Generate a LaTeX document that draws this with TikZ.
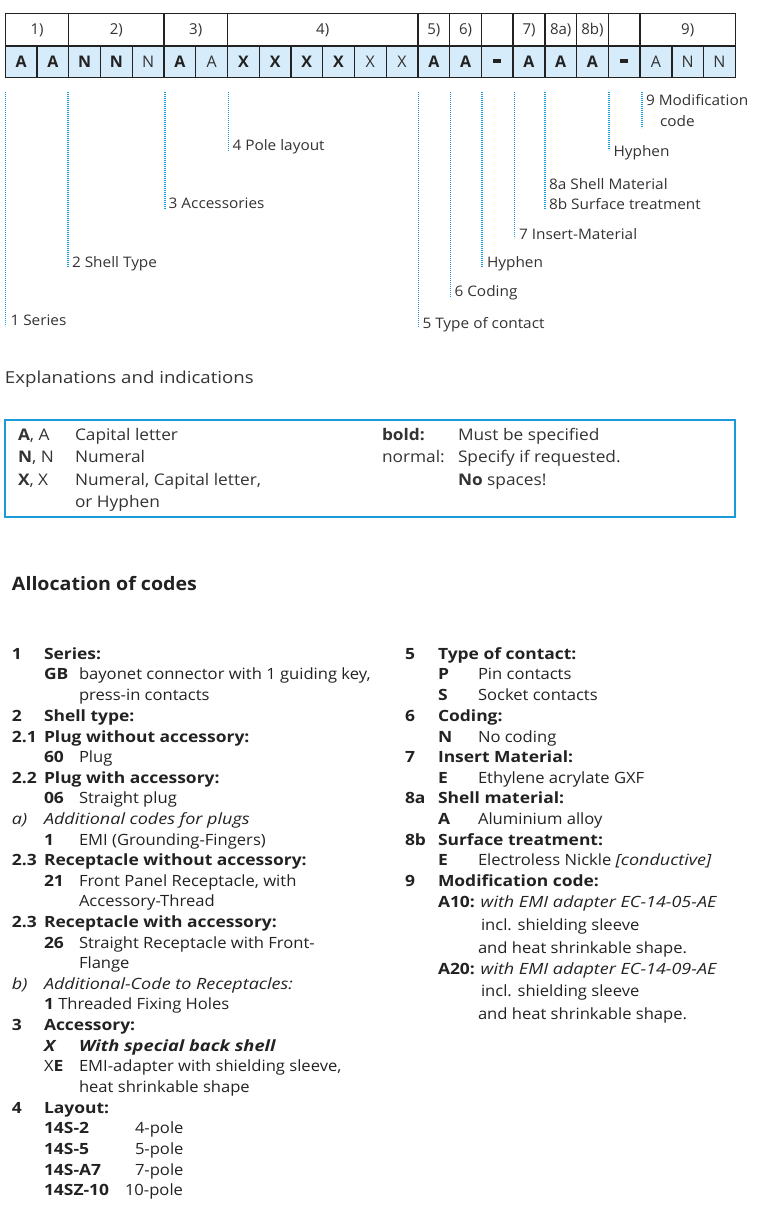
\documentclass[tikz,border=0pt]{standalone}
\usepackage{fontspec}
\setmainfont{Open Sans}
\newfontfamily\listfont[FakeStretch=1.07,BoldFeatures={FakeStretch=1.125},ItalicFeatures={FakeStretch=1.16},BoldItalicFeatures={FakeStretch=1.18}]{Open Sans}
\newfontfamily\labfont[FakeStretch=1.06]{Open Sans}
\newfontfamily\boxfont[FakeStretch=1.08]{Open Sans}
\newfontfamily\headfont[FakeStretch=1.13]{Open Sans}
\definecolor{cellblue}{HTML}{D6ECFA}
\definecolor{dotblue}{HTML}{1A9AD8}
\definecolor{txt}{HTML}{222222}
\definecolor{lbl}{HTML}{333333}
\begin{document}
\begin{tikzpicture}[x=1pt,y=-1pt,
  every node/.style={inner sep=0pt,outer sep=0pt,text=txt},
  lt/.style={anchor=mid west,yshift=-3pt,font=\listfont\fontsize{15.5}{17}\selectfont},
  lab/.style={anchor=mid west,yshift=-3pt,font=\labfont\fontsize{14.5}{20}\selectfont,text=lbl},
  box/.style={anchor=mid west,yshift=-3pt,font=\boxfont\fontsize{16}{18}\selectfont,text=lbl},
  cellb/.style={font=\bfseries\fontsize{16}{18}\selectfont},
  celln/.style={font=\fontsize{16}{18}\selectfont,text=lbl},
  hdr/.style={font=\fontsize{15}{18}\selectfont,text=lbl},
  leader/.style={draw=dotblue,line width=1.6pt,dash pattern=on 1.2pt off 0.8pt},
  grid/.style={draw=txt,line width=1.3pt}]
\useasboundingbox (0,0) rectangle (756,1209);
\def\w{31.74}
\def\xo{5.3}
% code row fill
\fill[cellblue] (\xo,46) rectangle ({\xo+23*\w},77.3);
% grid
\draw[grid] (\xo,13.3) rectangle ({\xo+23*\w},77.3);
\draw[grid] (\xo,46) -- ({\xo+23*\w},46);
\foreach \i in {1,...,22} {\draw[grid] ({\xo+\i*\w},46) -- ({\xo+\i*\w},77.3);}
\foreach \i in {2,5,7,13,14,15,16,17,18,19,20} {\draw[grid] ({\xo+\i*\w},13.3) -- ({\xo+\i*\w},46);}
% headers
\node[hdr] (h1) at ({\xo+1*\w},30) {1)};
\node[hdr] (h2) at ({\xo+3.5*\w},30) {2)};
\node[hdr] (h3) at ({\xo+6*\w},30) {3)};
\node[hdr] (h4) at ({\xo+10*\w},30) {4)};
\node[hdr] (h5) at ({\xo+13.5*\w},30) {5)};
\node[hdr] (h6) at ({\xo+14.5*\w},30) {6)};
\node[hdr] (h7) at ({\xo+16.5*\w},30) {7)};
\node[hdr] (h8a) at ({\xo+17.5*\w},30) {8a)};
\node[hdr] (h8b) at ({\xo+18.5*\w},30) {8b)};
\node[hdr] (h9) at ({\xo+21.5*\w},30) {9)};
% code letters
\foreach \i/\c/\s in {1/A/cellb,2/A/cellb,3/N/cellb,4/N/cellb,5/N/celln,6/A/cellb,7/A/celln,
  8/X/cellb,9/X/cellb,10/X/cellb,11/X/cellb,12/X/celln,13/X/celln,14/A/cellb,15/A/cellb,
  16/{\rule[0.25ex]{0.5em}{0.2em}}/cellb,17/A/cellb,18/A/cellb,19/A/cellb,
  20/{\rule[0.25ex]{0.5em}{0.2em}}/cellb,21/A/celln,22/N/celln,23/N/celln}
  {\node[\s] (c\i) at ({\xo+(\i-0.5)*\w},62) {\c};}
% leader tops and bottoms
\coordinate (t1) at (5.5,92);
\coordinate (t2) at (68,92);
\coordinate (t3) at (164.7,92);
\coordinate (t4) at (228.5,92);
\coordinate (t5) at (418.5,92);
\coordinate (t6) at (450.5,92);
\coordinate (t7) at (482,92);
\coordinate (t8) at (514.5,92);
\coordinate (t9) at (545,92);
\coordinate (t10) at (609,92);
\coordinate (t11) at (641.7,92);
\coordinate (b1) at (5.5,326);
\coordinate (b2) at (68,267);
\coordinate (b3) at (164.7,209);
\coordinate (b4) at (228.5,151);
\coordinate (b5) at (418.5,327);
\coordinate (b6) at (450.5,297);
\coordinate (b7) at (482,267);
\coordinate (b8) at (514.5,238);
\coordinate (b9) at (545,209);
\coordinate (b10) at (609,150);
\coordinate (b11) at (641.7,128);
\foreach \i in {1,...,11} {\draw[leader] (t\i) -- (b\i);}
\node[lab] (l1) at (10.5,320) {1 Series};
\node[lab] (l2) at (72,262) {2 Shell Type};
\node[lab] (l3) at (168.7,203) {3 Accessories};
\node[lab] (l4) at (232.5,145) {4 Pole layout};
\node[lab] (l5) at (422.5,323) {5 Type of contact};
\node[lab] (l6) at (454.5,291) {6 Coding};
\node[lab] (l7) at (487,262) {Hyphen};
\node[lab] (l8) at (519,234) {7 Insert-Material};
\node[lab] (l9) at (549,183.5) {8a Shell Material};
\node[lab] (l9b) at (549,204) {8b Surface treatment};
\node[lab] (l10) at (613.5,151) {Hyphen};
\node[lab] (l11) at (646,100) {9 Modification};
\node[lab] (l11b) at (660,120.5) {code};
% explanations
\node[box,font=\headfont\fontsize{16.5}{18}\selectfont] (exh) at (5,378) {Explanations and indications};
\draw[draw=dotblue,line width=1.1pt] (5,420) rectangle (735,517);
\node[box] (e1a) at (18,435) {\textbf{A}, A};
\node[box] (e1b) at (75,435) {Capital letter};
\node[box] (e1c) at (382,435) {\textbf{bold:}};
\node[box] (e1d) at (458,435) {Must be specified};
\node[box] (e2a) at (18,457) {\textbf{N}, N};
\node[box] (e2b) at (75,457) {Numeral};
\node[box] (e2c) at (382,457) {normal:};
\node[box] (e2d) at (458,457) {Specify if requested.};
\node[box] (e3a) at (18,480) {\textbf{X}, X};
\node[box] (e3b) at (75,480) {Numeral, Capital letter,};
\node[box] (e3d) at (458,480) {\textbf{No} spaces!};
\node[box] (e4b) at (75,502) {or Hyphen};
% allocation
\node[lt,font=\labfont\bfseries\fontsize{18.5}{20}\selectfont] (alloc) at (12,585) {Allocation of codes};
% left column
\node[lt] (a1n) at (12,654) {\textbf{1}};
\node[lt] (a1h) at (44,654) {\textbf{Series:}};
\node[lt] (a1c) at (44,674) {\textbf{GB}};
\node[lt] (a1d) at (79,674) {bayonet connector with 1 guiding key,};
\node[lt] (a1e) at (79,695) {press-in contacts};
\node[lt] (a2n) at (12,716) {\textbf{2}};
\node[lt] (a2h) at (44,716) {\textbf{Shell type:}};
\node[lt] (a21n) at (12,737) {\textbf{2.1}};
\node[lt] (a21h) at (44,737) {\textbf{Plug without accessory:}};
\node[lt] (a21c) at (44,757) {\textbf{60}};
\node[lt] (a21d) at (79,757) {Plug};
\node[lt] (a22n) at (12,778) {\textbf{2.2}};
\node[lt] (a22h) at (44,778) {\textbf{Plug with accessory:}};
\node[lt] (a22c) at (44,798) {\textbf{06}};
\node[lt] (a22d) at (79,798) {Straight plug};
\node[lt] (aan) at (12,819) {\textit{a)}};
\node[lt] (aah) at (44,819) {\textit{Additional codes for plugs}};
\node[lt] (aac) at (44,840) {\textbf{1}};
\node[lt] (aad) at (79,840) {EMI (Grounding-Fingers)};
\node[lt] (a23n) at (12,860) {\textbf{2.3}};
\node[lt] (a23h) at (44,860) {\textbf{Receptacle without accessory:}};
\node[lt] (a23c) at (44,881) {\textbf{21}};
\node[lt] (a23d) at (79,881) {Front Panel Receptacle, with};
\node[lt] (a23e) at (79,901) {Accessory-Thread};
\node[lt] (a24n) at (12,922) {\textbf{2.3}};
\node[lt] (a24h) at (44,922) {\textbf{Receptacle with accessory:}};
\node[lt] (a24c) at (44,943) {\textbf{26}};
\node[lt] (a24d) at (79,943) {Straight Receptacle with Front-};
\node[lt] (a24e) at (79,963) {Flange};
\node[lt] (abn) at (12,984) {\textit{b)}};
\node[lt] (abh) at (44,984) {\textit{Additional-Code to Receptacles:}};
\node[lt] (abc) at (44,1004) {\textbf{1} Threaded Fixing Holes};
\node[lt] (a3n) at (12,1025) {\textbf{3}};
\node[lt] (a3h) at (44,1025) {\textbf{Accessory:}};
\node[lt] (a3c) at (44,1046) {\textbf{\textit{X}}};
\node[lt] (a3d) at (79,1046) {\textbf{\textit{With special back shell}}};
\node[lt] (a3e) at (44,1066) {X\textbf{E}};
\node[lt] (a3f) at (79,1066) {EMI-adapter with shielding sleeve,};
\node[lt] (a3g) at (79,1087) {heat shrinkable shape};
\node[lt] (a4n) at (12,1108) {\textbf{4}};
\node[lt] (a4h) at (44,1108) {\textbf{Layout:}};
\node[lt] (a41c) at (44,1128) {\textbf{14S-2}};
\node[lt] (a41d) at (135,1128) {4-pole};
\node[lt] (a42c) at (44,1149) {\textbf{14S-5}};
\node[lt] (a42d) at (135,1149) {5-pole};
\node[lt] (a43c) at (44,1170) {\textbf{14S-A7}};
\node[lt] (a43d) at (135,1170) {7-pole};
\node[lt] (a44c) at (44,1190) {\textbf{14SZ-10}};
\node[lt] (a44d) at (125,1190) {10-pole};
% right column
\node[lt] (r5n) at (405,654) {\textbf{5}};
\node[lt] (r5h) at (438,654) {\textbf{Type of contact:}};
\node[lt] (r5c) at (438,674) {\textbf{P}};
\node[lt] (r5d) at (478,674) {Pin contacts};
\node[lt] (r5e) at (438,695) {\textbf{S}};
\node[lt] (r5f) at (478,695) {Socket contacts};
\node[lt] (r6n) at (405,716) {\textbf{6}};
\node[lt] (r6h) at (438,716) {\textbf{Coding:}};
\node[lt] (r6c) at (438,737) {\textbf{N}};
\node[lt] (r6d) at (478,737) {No coding};
\node[lt] (r7n) at (405,757) {\textbf{7}};
\node[lt] (r7h) at (438,757) {\textbf{Insert Material:}};
\node[lt] (r7c) at (438,778) {\textbf{E}};
\node[lt] (r7d) at (478,778) {Ethylene acrylate GXF};
\node[lt] (r8n) at (405,798) {\textbf{8a}};
\node[lt] (r8h) at (438,798) {\textbf{Shell material:}};
\node[lt] (r8c) at (438,819) {\textbf{A}};
\node[lt] (r8d) at (478,819) {Aluminium alloy};
\node[lt] (r8bn) at (405,840) {\textbf{8b}};
\node[lt] (r8bh) at (438,840) {\textbf{Surface treatment:}};
\node[lt] (r8bc) at (438,860) {\textbf{E}};
\node[lt] (r8bd) at (478,860) {Electroless Nickle \textit{[conductive]}};
\node[lt] (r9n) at (405,881) {\textbf{9}};
\node[lt] (r9h) at (438,881) {\textbf{Modification code:}};
\node[lt] (r9a) at (438,902) {\textbf{A10:} \textit{with EMI adapter EC-14-05-AE}};
\node[lt] (r9b) at (481,925) {incl. shielding sleeve};
\node[lt] (r9c) at (478,948) {and heat shrinkable shape.};
\node[lt] (r9d) at (438,969) {\textbf{A20:} \textit{with EMI adapter EC-14-09-AE}};
\node[lt] (r9e) at (481,991) {incl. shielding sleeve};
\node[lt] (r9f) at (478,1014) {and heat shrinkable shape.};
\end{tikzpicture}
\end{document}
